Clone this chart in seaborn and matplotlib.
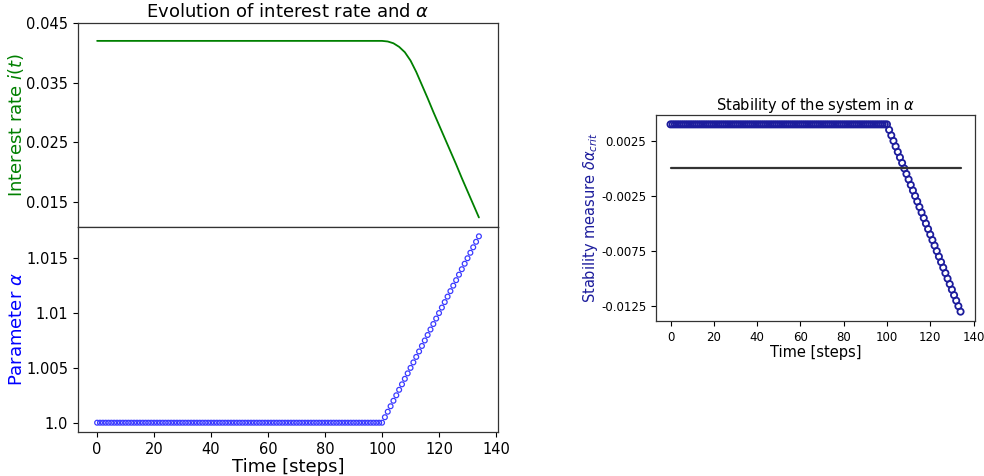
import matplotlib.pyplot as plt
import numpy as np
import seaborn as sns

# time axis (integer steps)
steps = list(range(135))

# interest rate i(t) at a few steps
rate_steps = [0, 100, 102, 104, 106, 108, 110, 112, 114, 116, 118, 120,
              122, 124, 126, 128, 130, 132, 134]
rate_values = [0.0420, 0.0420, 0.0419, 0.0416, 0.0410, 0.0401, 0.0387, 0.0368,
               0.0346, 0.0324, 0.0301, 0.0279, 0.0257, 0.0235, 0.0213, 0.0190,
               0.0168, 0.0146, 0.0124]

# parameter alpha, one value per step
alpha_values = [
    1.0, 1.0, 1.0, 1.0, 1.0, 1.0, 1.0, 1.0, 1.0, 1.0, 1.0, 1.0, 1.0, 1.0, 1.0, 1.0, 1.0, 1.0, 1.0, 1.0,
    1.0, 1.0, 1.0, 1.0, 1.0, 1.0, 1.0, 1.0, 1.0, 1.0, 1.0, 1.0, 1.0, 1.0, 1.0, 1.0, 1.0, 1.0, 1.0, 1.0,
    1.0, 1.0, 1.0, 1.0, 1.0, 1.0, 1.0, 1.0, 1.0, 1.0, 1.0, 1.0, 1.0, 1.0, 1.0, 1.0, 1.0, 1.0, 1.0, 1.0,
    1.0, 1.0, 1.0, 1.0, 1.0, 1.0, 1.0, 1.0, 1.0, 1.0, 1.0, 1.0, 1.0, 1.0, 1.0, 1.0, 1.0, 1.0, 1.0, 1.0,
    1.0, 1.0, 1.0, 1.0, 1.0, 1.0, 1.0, 1.0, 1.0, 1.0, 1.0, 1.0, 1.0, 1.0, 1.0, 1.0, 1.0, 1.0, 1.0, 1.0,
    1.0,
    1.0005, 1.0010, 1.0015, 1.0020, 1.0025, 1.0030, 1.0035, 1.0040, 1.0045, 1.0050,
    1.0055, 1.0060, 1.0065, 1.0070, 1.0075, 1.0080, 1.0085, 1.0090, 1.0095, 1.0100,
    1.0105, 1.0110, 1.0115, 1.0120, 1.0125, 1.0130, 1.0135, 1.0140, 1.0145, 1.0150,
    1.0155, 1.0160, 1.0165, 1.0170]

# stability measure delta alpha_crit, one value per step
stability_values = [
    0.004, 0.004, 0.004, 0.004, 0.004, 0.004, 0.004, 0.004, 0.004, 0.004, 0.004, 0.004, 0.004, 0.004, 0.004, 0.004, 0.004, 0.004, 0.004, 0.004,
    0.004, 0.004, 0.004, 0.004, 0.004, 0.004, 0.004, 0.004, 0.004, 0.004, 0.004, 0.004, 0.004, 0.004, 0.004, 0.004, 0.004, 0.004, 0.004, 0.004,
    0.004, 0.004, 0.004, 0.004, 0.004, 0.004, 0.004, 0.004, 0.004, 0.004, 0.004, 0.004, 0.004, 0.004, 0.004, 0.004, 0.004, 0.004, 0.004, 0.004,
    0.004, 0.004, 0.004, 0.004, 0.004, 0.004, 0.004, 0.004, 0.004, 0.004, 0.004, 0.004, 0.004, 0.004, 0.004, 0.004, 0.004, 0.004, 0.004, 0.004,
    0.004, 0.004, 0.004, 0.004, 0.004, 0.004, 0.004, 0.004, 0.004, 0.004, 0.004, 0.004, 0.004, 0.004, 0.004, 0.004, 0.004, 0.004, 0.004, 0.004,
    0.004,
    0.0035, 0.0030, 0.0025, 0.0020, 0.0015, 0.0010, 0.0005, 0.0000, -0.0005, -0.0010,
    -0.0015, -0.0020, -0.0025, -0.0030, -0.0035, -0.0040, -0.0045, -0.0050, -0.0055, -0.0060,
    -0.0065, -0.0070, -0.0075, -0.0080, -0.0085, -0.0090, -0.0095, -0.0100, -0.0105, -0.0110,
    -0.0115, -0.0120, -0.0125, -0.0130]

# reference line at zero
zero_x = [0, 134]
zero_y = [0.0, 0.0]

# tick labels
rate_ticks = [0.015, 0.025, 0.035, 0.045]
rate_labels = ["0.015", "0.025", "0.035", "0.045"]
alpha_ticks = [1.0, 1.005, 1.01, 1.015]
alpha_labels = ["1.0", "1.005", "1.01", "1.015"]
stab_ticks = [0.0025, -0.0025, -0.0075, -0.0125]
stab_labels = ["0.0025", "-0.0025", "-0.0075", "-0.0125"]
time_ticks = [0, 20, 40, 60, 80, 100, 120, 140]

sns.set_style("ticks")
plt.rcParams['font.family'] = ['DejaVu Sans']
plt.rcParams['text.color'] = 'black'
plt.rcParams['axes.labelcolor'] = 'black'
plt.rcParams['xtick.color'] = 'black'
plt.rcParams['ytick.color'] = 'black'

fig = plt.figure(figsize=(9.84, 4.76), dpi=100)
ax_rate = fig.add_axes([0.0793, 0.5231, 0.4268, 0.4286])
ax_alpha = fig.add_axes([0.0793, 0.0924, 0.4268, 0.4307], sharex=ax_rate)
ax_stab = fig.add_axes([0.6667, 0.3256, 0.3242, 0.4328])

# Interest rate (top left)
sns.lineplot(x=rate_steps, y=rate_values, ax=ax_rate, color="green", linewidth=1.3)
ax_rate.set_ylim(0.0108, 0.045)
ax_rate.set_yticks(rate_ticks)
ax_rate.set_yticklabels(rate_labels, fontsize=10.5)
ax_rate.tick_params(axis='x', bottom=False, labelbottom=False)
ax_rate.set_ylabel("Interest rate $i(t)$", color="green", fontsize=13, labelpad=0)
ax_rate.set_title(r"Evolution of interest rate and $\alpha$", fontsize=13, pad=4)

# Parameter alpha (bottom left)
sns.scatterplot(x=steps, y=alpha_values, ax=ax_alpha, s=12, facecolor="none",
                edgecolor="#3a3aff", linewidth=0.9, marker="o")
ax_alpha.set_yticks(alpha_ticks)
ax_alpha.set_yticklabels(alpha_labels, fontsize=10.5)
ax_alpha.tick_params(axis='x', labelsize=10.5)
ax_alpha.set_xticks(time_ticks)
ax_alpha.set_xlim(-6.7, 140.7)
ax_alpha.set_xlabel("Time [steps]", fontsize=13, labelpad=1)
ax_alpha.set_ylabel(r"Parameter $\alpha$", color="blue", fontsize=13, labelpad=0)
fig.align_ylabels([ax_rate, ax_alpha])

# Stability measure (right)
sns.lineplot(x=zero_x, y=zero_y, ax=ax_stab, color="#333333", linewidth=1.6)
sns.scatterplot(x=steps, y=stability_values, ax=ax_stab, s=20, facecolor="none",
                edgecolor="#1c1c9c", linewidth=1.3, marker="o")
ax_stab.set_yticks(stab_ticks)
ax_stab.set_yticklabels(stab_labels, fontsize=8.5)
ax_stab.set_xticks(time_ticks)
ax_stab.tick_params(axis='x', labelsize=8.5)
ax_stab.set_xlim(-6.7, 140.7)
ax_stab.set_xlabel("Time [steps]", fontsize=10.5, labelpad=1)
ax_stab.set_ylabel(r"Stability measure $\delta\alpha_{crit}$", color="#1c1c9c",
                   fontsize=10.5, labelpad=1)
ax_stab.set_title(r"Stability of the system in $\alpha$", fontsize=10.5, pad=3)

for ax in [ax_rate, ax_alpha, ax_stab]:
    for sp in ax.spines.values():
        sp.set_color("#333333")
        sp.set_linewidth(0.9)

plt.savefig("out.png", dpi=100)
